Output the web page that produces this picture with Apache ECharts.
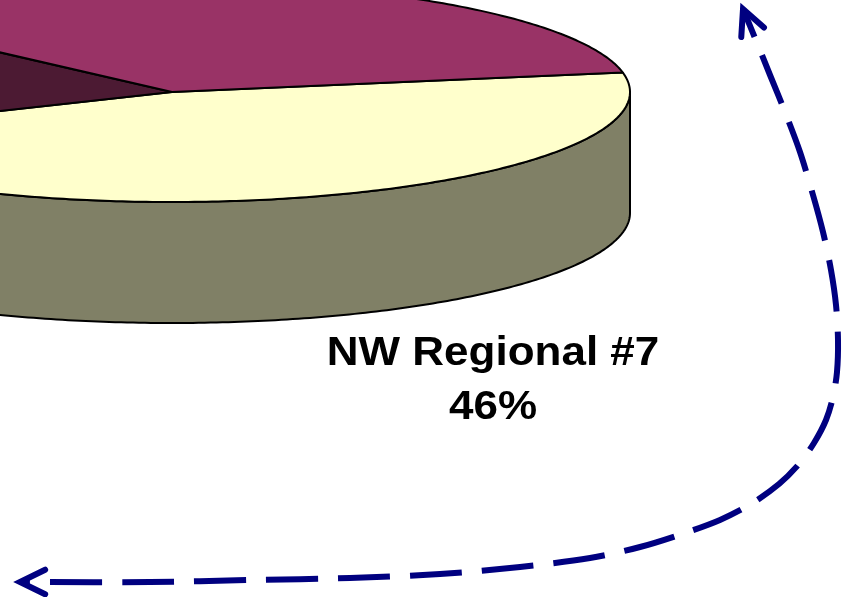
<!DOCTYPE html>
<html><head><meta charset="utf-8">
<script src="https://cdn.jsdelivr.net/npm/echarts@6/dist/echarts.min.js"></script>
<style>html,body{margin:0;padding:0;background:#fff;}#c{width:842px;height:597px;}</style>
</head><body><div id="c"></div>
<script>
// ---- data ----
const categories = ['NW Regional #7', 'Region B', 'Region C'];
const values = [46, 19, 35];
const colors = ['#FFFFCC', '#4C1A33', '#993366'];
const labelled = ['NW Regional #7'];

// ---- layout (pixels) ----
const W = 842, H = 597;
const CX = 172, CY = 92, RX = 458, RY = 110, DEPTH = 121;
const START = -10.2;               // screen degrees, clockwise from 3 o'clock
const LABEL_POS = [0.701, -2.627]; // label centre in pie units
const depthU = DEPTH / RY;

const total = values.reduce((a, b) => a + b, 0);
const slices = [];
let acc = START;
values.forEach((v) => { const span = v / total * 360; slices.push({ a0: acc, a1: acc + span }); acc += span; });

function shade(hex, f) {
  const n = parseInt(hex.slice(1), 16);
  const r = Math.round(((n >> 16) & 255) * f), g = Math.round(((n >> 8) & 255) * f), b = Math.round((n & 255) * f);
  return 'rgb(' + r + ',' + g + ',' + b + ')';
}
function arc(api, a0, a1, dy) {
  const pts = [];
  const n = Math.max(2, Math.ceil(Math.abs(a1 - a0) / 0.75));
  for (let i = 0; i <= n; i++) {
    const a = (a0 + (a1 - a0) * i / n) * Math.PI / 180;
    pts.push(api.coord([Math.cos(a), -Math.sin(a) - dy]));
  }
  return pts;
}
function fronts(s) {
  const out = [];
  for (let k = -1; k <= 1; k++) {
    const lo = Math.max(s.a0, k * 360), hi = Math.min(s.a1, k * 360 + 180);
    if (hi > lo) out.push([lo, hi]);
  }
  return out;
}
const edge = { stroke: '#000', lineWidth: 2, lineJoin: 'round' };

const data = values.map((v, i) => [0, 0, i]);

// ---- arrow decoration (pixels) ----
const arrowPath = [[743,9],[755,38],[770,75],[785,112],[800,152],[813,195],[823,232],[831,270],[836,305],[838,340],[837,372],[833,397],[826,420],[814,443],[799,464],[779,484],[751,504],[720,520],[682,534],[640,547],[590,558],[520,567],[440,574],[350,578],[250,580],[150,582],[20,582]];
function head(tip, back) {
  const dx = back[0] - tip[0], dy = back[1] - tip[1];
  const l = Math.hypot(dx, dy), ux = dx / l, uy = dy / l;
  const t = 26 * Math.PI / 180, L = 28;
  const r = (c, s) => [tip[0] + L * (ux * c - uy * s), tip[1] + L * (ux * s + uy * c)];
  return [r(Math.cos(t), Math.sin(t)), tip, r(Math.cos(-t), Math.sin(-t))];
}
const navy = '#000080';

const chart = echarts.init(document.getElementById('c'), null, { renderer: 'canvas' });
chart.setOption({
  animation: false,
  backgroundColor: '#fff',
  grid: { left: 0, right: 0, top: 0, bottom: 0 },
  xAxis: { type: 'value', min: -CX / RX, max: (W - CX) / RX, show: false },
  yAxis: { type: 'value', min: (CY - H) / RY, max: CY / RY, show: false },
  series: [
    {
      type: 'custom', name: 'sides', data: data, z: 1,
      renderItem: (params, api) => {
        const s = slices[params.dataIndex];
        const children = fronts(s).map(([lo, hi]) => ({
          type: 'polygon',
          shape: { points: arc(api, lo, hi, 0).concat(arc(api, hi, lo, depthU)) },
          style: Object.assign({ fill: shade(colors[params.dataIndex], 0.5) }, edge)
        }));
        return { type: 'group', children };
      }
    },
    {
      type: 'custom', name: 'tops', data: data, z: 2,
      renderItem: (params, api) => {
        const i = params.dataIndex, s = slices[i];
        const children = [{
          type: 'polygon',
          shape: { points: [api.coord([0, 0])].concat(arc(api, s.a0, s.a1, 0)) },
          style: Object.assign({ fill: colors[i] }, edge)
        }];
        if (labelled.indexOf(categories[i]) >= 0) {
          const p = api.coord(LABEL_POS);
          children.push({
            type: 'text', x: p[0], y: p[1], scaleX: 1.1, z2: 10,
            style: {
              text: categories[i] + '\n' + Math.round(values[i] / total * 100) + '%',
              fill: '#000', font: 'bold 40px "Liberation Sans", Arial, sans-serif',
              align: 'center', verticalAlign: 'middle', lineHeight: 54
            }
          });
        }
        return { type: 'group', children };
      }
    }
  ],
  graphic: [
    { type: 'polyline', z: 100, shape: { points: arrowPath, smooth: 0.3 },
      style: { stroke: navy, lineWidth: 6, fill: null, lineDash: [52, 20], lineDashOffset: 22 } },
    { type: 'polyline', z: 100, shape: { points: head(arrowPath[0], arrowPath[1]) },
      style: { stroke: navy, lineWidth: 6, fill: null, lineCap: 'round', lineJoin: 'miter' } },
    { type: 'polyline', z: 100, shape: { points: head(arrowPath[arrowPath.length - 1], arrowPath[arrowPath.length - 2]) },
      style: { stroke: navy, lineWidth: 6, fill: null, lineCap: 'round', lineJoin: 'miter' } }
  ]
});
</script>
</body></html>
